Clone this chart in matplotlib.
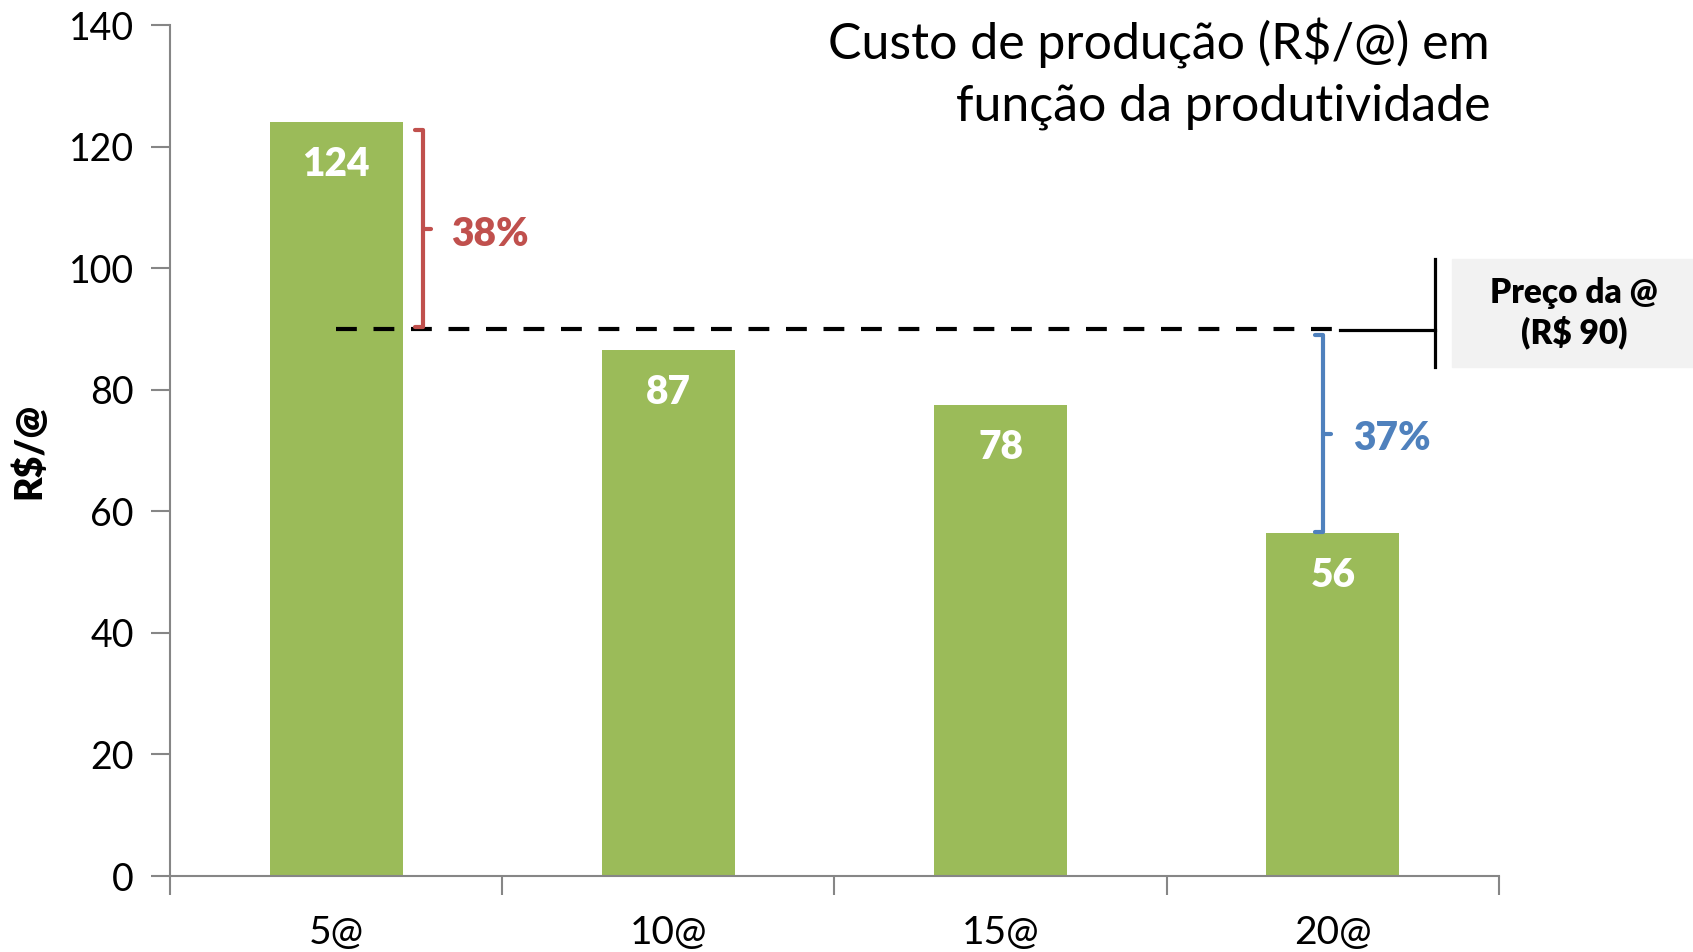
import matplotlib
matplotlib.use("Agg")
import matplotlib.pyplot as plt
import matplotlib.patches as mpatches

plt.rcParams["font.family"] = ["Lato", "DejaVu Sans"]

categorias = ["5@", "10@", "15@", "20@"]
custo = [124, 86.6, 77.5, 56.4]
rotulos = ["124", "87", "78", "56"]
preco = 90
dif_alta = "38%"
dif_baixa = "37%"

VERDE = "#9BBB59"
VERMELHO = "#C0504D"
AZUL = "#4F81BD"
CINZA = "#868686"

fig = plt.figure(figsize=(16.93, 9.52), dpi=100)
ax = fig.add_axes([0.1004, 0.0798, 0.785, 0.8939])

x = list(range(len(categorias)))
ax.bar(x, custo, width=0.4, color=VERDE, zorder=2)
for xi, v, r in zip(x, custo, rotulos):
    ax.text(xi, v - 7.0, r, ha="center", va="center", color="white",
            fontsize=28, fontweight="heavy", zorder=3)

ax.set_xlim(-0.5, 3.5)
ax.set_ylim(0, 140)
ax.set_yticks(range(0, 141, 20))
ax.set_xticks([i - 0.5 for i in range(5)])
ax.set_xticklabels([])
ax.set_xticks(x, minor=True)
ax.set_xticklabels(categorias, minor=True)
ax.tick_params(axis="x", which="minor", length=0, pad=28, labelsize=28)
ax.tick_params(axis="x", which="major", length=14, width=1.5, color=CINZA)
ax.tick_params(axis="y", length=14, width=1.5, color=CINZA, labelsize=27, pad=12)
for s in ["top", "right"]:
    ax.spines[s].set_visible(False)
for s in ["left", "bottom"]:
    ax.spines[s].set_color(CINZA)
    ax.spines[s].set_linewidth(1.5)
ax.set_ylabel("R$/@", fontsize=27, fontweight="heavy", labelpad=16)

# linha do preco
ax.plot([0, 3], [preco, preco], color="black", lw=3, ls=(0, (5, 4)), zorder=3)
ax.plot([3.02, 3.307], [89.8, 89.8], color="black", lw=2.3, clip_on=False)
ax.plot([3.307, 3.307], [83.7, 101.5], color="black", lw=2.3, clip_on=False)

caixa = mpatches.Rectangle((1452 / 1693, 1 - 367 / 952), 241 / 1693, 108 / 952,
                           transform=fig.transFigure, color="#F2F2F2", zorder=0)
fig.patches.append(caixa)
fig.text(1574 / 1693, 1 - 313 / 952, "Preço da @\n(R$ 90)", ha="center", va="center",
         fontsize=24, fontweight="heavy", linespacing=1.25)


def colchete(xc, y0, y1, cor):
    d = 0.025
    ax.plot([xc - d, xc, xc, xc - d], [y1, y1, y0, y0], color=cor, lw=3,
            solid_joinstyle="round", solid_capstyle="round", zorder=3)
    ym = (y0 + y1) / 2
    ax.plot([xc, xc + d], [ym, ym], color=cor, lw=3, solid_capstyle="round", zorder=3)


colchete(0.262, 90.3, 122.7, VERMELHO)
ax.text(0.345, 105.6, dif_alta, color=VERMELHO, fontsize=28, fontweight="heavy",
        ha="left", va="center")
colchete(2.97, 56.6, 89.0, AZUL)
ax.text(3.06, 71.9, dif_baixa, color=AZUL, fontsize=28, fontweight="heavy",
        ha="left", va="center")

fig.text(1490 / 1693, 1 - 18 / 952, "Custo de produção (R$/@) em\nfunção da produtividade",
         ha="right", va="top", fontsize=36, linespacing=1.38)

fig.savefig("out.png", dpi=100)
